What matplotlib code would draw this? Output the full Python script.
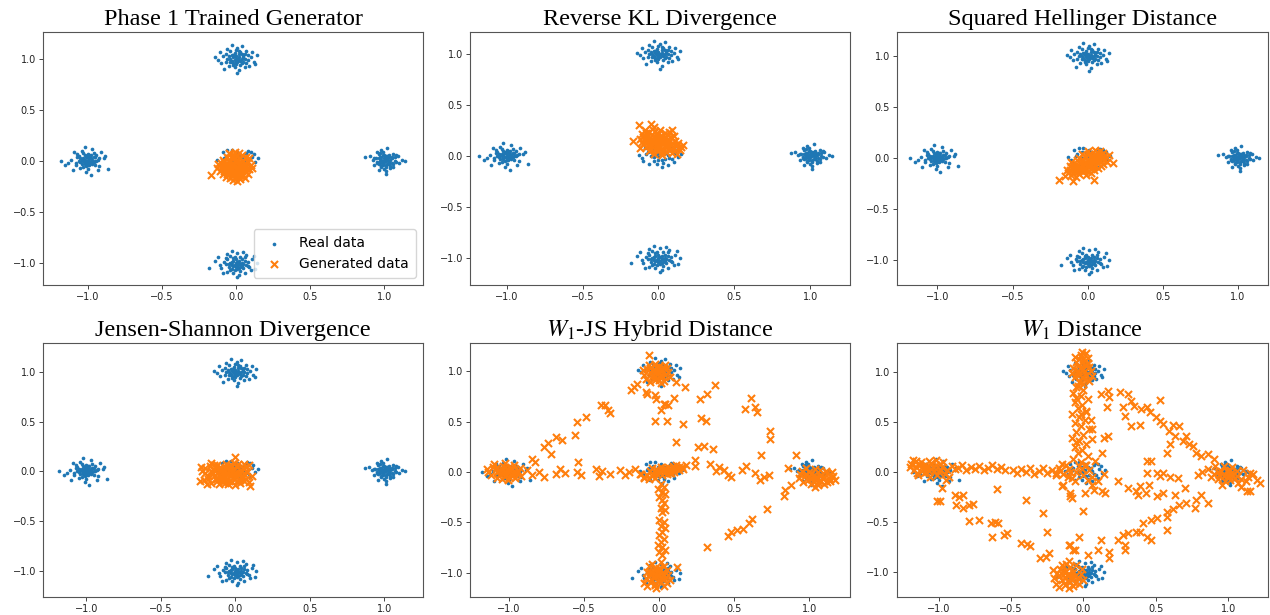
import numpy as np
import matplotlib.pyplot as plt

plt.rcParams['mathtext.fontset'] = 'stix'

titles = ['Phase 1 Trained Generator', 'Reverse KL Divergence', 'Squared Hellinger Distance',
          'Jensen-Shannon Divergence', '$W_1$-JS Hybrid Distance', '$W_1$ Distance']

# axis limits
xlims = [(-1.30, 1.26), (-1.24, 1.26), (-1.27, 1.20), (-1.29, 1.26), (-1.26, 1.27), (-1.29, 1.276)]
ylims = [(-1.22, 1.26), (-1.27, 1.22), (-1.25, 1.24), (-1.265, 1.29), (-1.24, 1.28), (-1.25, 1.29)]

# real data: five gaussian modes
real_left = [(-1.02, 0.01), (-0.97, -0.03), (-1.05, 0.02), (-0.99, 0.05), (-1.01, -0.01), (-0.94, 0.00),
             (-1.08, -0.04), (-1.00, 0.03), (-0.96, 0.07), (-1.03, -0.06), (-1.06, 0.04), (-0.98, -0.02),
             (-1.11, 0.01), (-0.92, -0.05), (-1.00, -0.08), (-1.04, 0.09), (-0.95, 0.03), (-1.02, -0.03),
             (-0.89, 0.02), (-1.13, -0.02), (-0.99, 0.00), (-1.07, 0.06), (-0.97, 0.11), (-1.01, -0.11),
             (-0.93, -0.09), (-1.09, 0.08), (-1.03, 0.02), (-0.96, -0.01), (-1.18, 0.00), (-0.86, -0.08),
             (-1.00, 0.06), (-1.05, -0.07), (-0.94, 0.05), (-1.02, 0.13), (-0.98, -0.14), (-1.15, -0.04),
             (-0.91, 0.08), (-1.04, -0.03), (-0.99, 0.02), (-1.06, 0.00), (-0.95, -0.04), (-1.01, 0.04),
             (-0.88, 0.04), (-1.10, -0.09), (-0.97, 0.01), (-1.03, 0.07), (-1.00, -0.04), (-0.93, 0.01),
             (-1.00, 0.01), (-0.98, 0.02), (-1.02, -0.02), (-1.01, 0.03), (-0.97, -0.01), (-1.03, 0.00),
             (-0.99, -0.04), (-1.04, 0.01), (-0.96, 0.03), (-1.01, -0.05), (-0.98, 0.05), (-1.05, -0.01),
             (-0.95, 0.00), (-1.00, -0.02), (-1.02, 0.05), (-1.07, 0.03), (-0.92, 0.02), (-1.08, -0.02)]
real_right = [(1.02, 0.01), (0.97, -0.02), (1.05, 0.03), (0.99, 0.00), (1.01, -0.04), (0.94, 0.02),
              (1.08, -0.01), (1.00, 0.05), (0.96, -0.03), (1.03, 0.00), (1.06, 0.06), (0.98, -0.06),
              (1.01, 0.02), (0.92, 0.01), (1.10, -0.02), (0.99, 0.08), (1.04, -0.05), (0.95, -0.01),
              (1.02, 0.04), (1.00, -0.08), (0.97, 0.03), (1.07, 0.00), (1.03, -0.03), (0.90, 0.04),
              (1.12, 0.01), (0.98, 0.10), (1.01, -0.10), (1.05, 0.02), (0.96, 0.06), (1.00, 0.00),
              (1.04, -0.07), (0.93, -0.04), (1.09, 0.04), (0.99, -0.02), (1.02, 0.12), (0.87, 0.03),
              (1.14, 0.00), (1.01, -0.13), (0.97, 0.07), (1.03, 0.05), (1.06, -0.06), (0.95, 0.08),
              (1.00, 0.02), (1.08, 0.05), (0.98, -0.05), (1.03, -0.01), (0.96, -0.09), (1.01, 0.00),
              (1.00, -0.01), (1.02, 0.02), (0.98, 0.01), (1.01, 0.04), (0.97, 0.00), (1.04, 0.01),
              (0.99, -0.04), (1.03, 0.03), (0.96, 0.02), (1.01, -0.06), (0.99, 0.05), (1.05, -0.02),
              (0.95, -0.02), (1.02, -0.03), (1.07, 0.03), (0.93, 0.02), (1.06, -0.03), (0.98, 0.03)]
real_top = [(0.02, 1.01), (-0.03, 0.98), (0.05, 1.03), (-0.01, 1.05), (0.01, 0.97), (-0.06, 1.00),
            (0.08, 0.99), (0.00, 1.02), (-0.04, 1.07), (0.03, 0.94), (0.06, 1.04), (-0.02, 0.96),
            (-0.09, 1.02), (0.10, 1.01), (0.01, 1.10), (-0.05, 0.93), (0.04, 1.00), (-0.01, 0.99),
            (0.12, 0.97), (-0.12, 0.99), (0.00, 0.95), (0.07, 1.07), (-0.07, 1.04), (0.02, 0.89),
            (-0.03, 1.13), (0.09, 0.93), (-0.10, 0.96), (0.03, 1.06), (0.14, 1.03), (-0.14, 1.01),
            (0.05, 0.97), (-0.02, 1.03), (0.01, 0.86), (0.04, 1.12), (-0.08, 0.90), (0.11, 1.06),
            (-0.04, 1.00), (0.00, 1.00), (0.06, 0.92), (-0.06, 1.09), (0.02, 1.04), (-0.01, 0.92),
            (0.08, 1.03), (-0.03, 0.97), (0.04, 0.96), (-0.11, 1.06), (0.13, 0.95), (0.00, 1.08),
            (0.01, 1.00), (-0.02, 1.01), (0.03, 0.98), (-0.01, 1.02), (0.02, 0.99), (-0.04, 0.97),
            (0.05, 1.01), (0.00, 0.97), (-0.03, 1.03), (0.04, 1.04), (-0.05, 1.02), (0.07, 0.96),
            (0.02, 1.07), (-0.07, 0.97), (0.06, 1.00), (-0.02, 0.94)]
real_bottom = [(0.01, -0.99), (-0.02, -1.03), (0.04, -0.97), (-0.05, -1.01), (0.02, -1.05), (-0.01, -0.95),
               (0.07, -1.02), (0.00, -1.00), (-0.04, -0.94), (0.03, -1.08), (0.06, -0.98), (-0.03, -1.06),
               (-0.08, -0.99), (0.09, -1.04), (0.01, -0.91), (-0.06, -1.09), (0.05, -1.01), (-0.02, -0.98),
               (0.11, -0.97), (-0.11, -1.02), (0.00, -1.04), (0.07, -0.93), (-0.07, -0.96), (0.02, -1.12),
               (-0.03, -0.89), (0.10, -1.07), (-0.10, -1.05), (0.03, -0.95), (0.14, -1.00), (-0.14, -0.98),
               (0.04, -1.03), (-0.01, -1.07), (0.01, -1.14), (0.05, -0.90), (-0.09, -1.10), (0.12, -0.94),
               (-0.04, -1.00), (0.00, -0.97), (0.06, -1.10), (-0.06, -0.92), (0.02, -1.01), (-0.02, -1.10),
               (0.08, -0.99), (-0.03, -1.02), (0.03, -1.04), (-0.12, -0.95), (0.13, -1.06), (-0.18, -1.05),
               (0.00, -1.01), (-0.01, -1.02), (0.02, -0.98), (-0.03, -0.99), (0.01, -1.03), (-0.05, -1.04),
               (0.04, -1.00), (-0.02, -0.96), (0.03, -1.01), (-0.04, -1.07), (0.05, -1.05), (-0.07, -1.01),
               (0.06, -0.95), (0.01, -1.06), (-0.06, -0.97), (0.08, -1.03)]
real_center = [(0.01, 0.02), (-0.03, -0.01), (0.04, 0.03), (-0.05, 0.00), (0.02, -0.04), (-0.01, 0.05),
               (0.07, -0.02), (0.00, 0.00), (-0.04, 0.06), (0.03, -0.07), (0.06, 0.01), (-0.03, -0.05),
               (-0.08, 0.02), (0.09, -0.03), (0.01, 0.08), (-0.06, -0.08), (0.05, 0.04), (-0.02, 0.01),
               (0.11, 0.03), (-0.11, -0.02), (0.00, -0.04), (0.07, 0.07), (-0.07, 0.04), (0.02, -0.11),
               (-0.03, 0.10), (0.10, -0.06), (-0.10, -0.05), (0.03, 0.05), (0.13, -0.01), (-0.13, 0.01),
               (0.04, -0.03), (-0.01, -0.08), (0.08, 0.09), (-0.09, 0.08), (0.12, 0.06), (-0.04, 0.00),
               (0.06, -0.09), (0.00, 0.03), (-0.06, 0.10), (0.02, 0.06), (0.15, 0.02), (0.10, 0.08)]

# generated samples, one set per panel
gen_phase1 = [(-0.17, -0.14), (-0.01, -0.05), (0.03, -0.02), (-0.05, -0.08), (0.06, -0.06), (-0.08, -0.01),
              (0.01, 0.04), (-0.03, -0.12), (0.08, -0.01), (-0.10, -0.06), (0.04, -0.10), (-0.06, 0.03),
              (0.00, -0.16), (0.09, -0.08), (-0.11, -0.10), (0.02, 0.07), (-0.04, 0.06), (0.07, 0.03),
              (-0.09, -0.13), (0.05, -0.14), (-0.02, -0.19), (0.03, -0.18), (-0.12, -0.03), (0.10, -0.04),
              (-0.07, -0.16), (0.00, 0.01), (-0.02, -0.02), (0.02, -0.08), (-0.05, -0.04), (0.05, 0.00),
              (-0.08, -0.08), (0.07, -0.11), (-0.03, 0.02), (0.01, -0.13), (-0.06, -0.11), (0.04, 0.05),
              (-0.09, 0.01), (0.08, -0.13), (-0.01, 0.08), (0.06, -0.17), (-0.04, -0.17), (0.11, -0.07),
              (-0.13, -0.07), (0.03, 0.02), (-0.07, -0.05), (0.02, -0.03), (-0.01, -0.10), (0.05, -0.07),
              (-0.10, -0.02), (0.00, -0.07), (0.09, 0.02), (-0.05, 0.07), (0.01, -0.20), (-0.03, -0.07),
              (0.06, -0.03), (-0.02, -0.04), (0.01, -0.06), (-0.04, -0.06), (0.03, -0.05), (-0.06, -0.07),
              (0.00, -0.09), (-0.03, -0.09), (0.04, -0.08), (-0.07, -0.03), (0.02, -0.01), (-0.01, -0.01),
              (-0.05, -0.01), (0.06, -0.09), (-0.08, -0.10), (0.00, -0.12), (-0.03, -0.15), (0.03, -0.14),
              (0.07, -0.05), (-0.09, -0.05), (0.01, 0.00), (-0.04, 0.00), (0.05, -0.04), (-0.06, -0.13),
              (0.02, -0.16), (-0.02, 0.05)]
gen_rkl = [(-0.17, 0.15), (-0.13, 0.30), (-0.05, 0.31), (0.09, 0.26), (0.00, 0.13), (0.04, 0.10),
           (-0.04, 0.16), (0.07, 0.14), (-0.08, 0.19), (0.02, 0.20), (-0.02, 0.07), (0.10, 0.08),
           (-0.10, 0.12), (0.05, 0.04), (-0.06, 0.24), (0.12, 0.11), (-0.12, 0.17), (0.01, 0.26),
           (-0.03, 0.02), (0.08, 0.19), (0.14, 0.06), (-0.09, 0.26), (0.03, 0.15), (-0.01, 0.18),
           (0.06, 0.07), (-0.05, 0.10), (0.11, 0.15), (-0.11, 0.22), (0.00, 0.05), (0.04, 0.23),
           (-0.07, 0.14), (0.09, 0.03), (-0.03, 0.28), (0.13, 0.13), (0.02, 0.01), (-0.04, 0.21),
           (0.06, 0.17), (-0.08, 0.09), (0.15, 0.09), (0.01, 0.10), (-0.01, 0.23), (0.08, 0.11),
           (-0.06, 0.05), (0.10, 0.20), (-0.12, 0.08), (0.03, 0.06), (-0.02, 0.13), (0.05, 0.12),
           (-0.09, 0.16), (0.07, 0.24), (0.12, 0.02), (-0.04, 0.27), (0.00, 0.17), (0.16, 0.11),
           (-0.07, 0.20), (0.01, 0.14), (-0.02, 0.15), (0.03, 0.12), (-0.04, 0.12), (0.05, 0.15),
           (-0.06, 0.17), (0.02, 0.17), (0.00, 0.10), (-0.03, 0.19), (0.06, 0.10), (-0.07, 0.11),
           (0.09, 0.13), (0.04, 0.19), (-0.05, 0.07), (0.08, 0.07), (-0.01, 0.21), (-0.10, 0.19),
           (0.11, 0.11), (0.02, 0.04), (-0.02, 0.25), (0.06, 0.21), (-0.08, 0.23), (0.13, 0.08),
           (-0.11, 0.14), (0.00, 0.08)]
gen_hellinger = [(-0.19, -0.22), (0.17, -0.05), (-0.10, -0.23), (0.04, -0.22), (-0.01, -0.05), (0.03, -0.01),
                 (-0.05, -0.09), (0.07, 0.02), (-0.09, -0.13), (0.01, 0.04), (-0.03, -0.14), (0.10, 0.05),
                 (-0.12, -0.08), (0.05, -0.07), (-0.07, -0.02), (0.08, -0.03), (-0.11, -0.17), (0.12, 0.01),
                 (-0.02, 0.02), (0.02, -0.11), (-0.06, -0.16), (0.06, 0.06), (-0.14, -0.12), (0.09, -0.08),
                 (0.00, -0.08), (-0.04, -0.04), (0.04, 0.03), (-0.08, -0.06), (0.03, -0.05), (-0.10, -0.10),
                 (0.11, -0.02), (-0.01, -0.17), (0.07, -0.10), (-0.13, -0.15), (0.00, 0.07), (-0.06, 0.00),
                 (0.05, 0.08), (-0.08, -0.19), (0.13, -0.04), (0.01, -0.02), (-0.03, -0.07), (0.06, -0.02),
                 (-0.05, -0.12), (0.09, 0.03), (-0.11, -0.04), (0.02, -0.15), (0.08, 0.07), (-0.15, -0.18),
                 (0.03, 0.00), (-0.02, -0.10), (0.04, -0.12), (-0.07, -0.08), (0.10, -0.06), (-0.04, 0.04),
                 (0.14, 0.03), (-0.02, -0.06), (0.01, -0.04), (-0.04, -0.07), (0.03, -0.03), (-0.06, -0.10),
                 (0.05, -0.01), (-0.08, -0.11), (0.07, 0.00), (-0.01, -0.12), (0.02, -0.07), (-0.05, -0.05),
                 (0.04, -0.09), (-0.09, -0.09), (0.08, 0.03), (-0.03, -0.02), (0.00, -0.01), (-0.07, -0.14),
                 (0.06, -0.05), (-0.12, -0.12), (0.10, 0.01), (-0.03, -0.11), (0.02, 0.02), (-0.10, -0.15),
                 (0.05, 0.04), (0.00, -0.13)]
gen_js = [(-0.24, -0.10), (0.10, -0.15), (0.00, 0.14), (0.09, 0.06), (-0.06, -0.03), (-0.02, 0.00),
          (-0.10, -0.06), (0.02, -0.04), (-0.14, 0.01), (0.05, 0.03), (-0.18, -0.05), (-0.04, 0.05),
          (0.07, -0.08), (-0.20, 0.03), (-0.08, -0.11), (0.03, -0.12), (-0.12, 0.06), (0.08, -0.01),
          (-0.16, -0.12), (-0.01, -0.08), (-0.21, -0.09), (0.06, 0.07), (-0.09, 0.01), (-0.05, -0.13),
          (0.01, 0.04), (-0.13, -0.08), (0.04, -0.06), (-0.17, 0.05), (-0.03, -0.05), (-0.07, 0.04),
          (0.09, -0.11), (-0.11, -0.13), (0.00, -0.02), (-0.15, -0.02), (0.06, -0.03), (-0.22, 0.00),
          (-0.06, -0.08), (0.02, 0.07), (-0.10, 0.02), (-0.19, -0.13), (0.11, -0.05), (-0.02, -0.11),
          (-0.13, 0.04), (0.04, 0.01), (-0.08, -0.04), (-0.16, 0.08), (0.07, 0.04), (-0.04, 0.01),
          (-0.12, -0.10), (0.00, -0.14), (-0.23, 0.04), (0.03, -0.09), (-0.09, -0.07), (-0.01, 0.08),
          (-0.06, 0.07), (-0.05, -0.02), (-0.08, -0.01), (-0.03, -0.03), (-0.11, -0.04), (0.00, -0.05),
          (-0.14, -0.05), (0.03, -0.02), (-0.07, -0.06), (-0.01, 0.02), (-0.10, 0.04), (-0.16, 0.00),
          (0.05, -0.06), (-0.04, -0.10), (-0.12, -0.07), (0.01, -0.10), (-0.18, -0.08), (-0.06, 0.03),
          (0.07, 0.00), (-0.09, -0.10), (-0.14, 0.06), (-0.02, 0.05), (-0.20, -0.02), (0.06, -0.10),
          (-0.07, -0.12), (-0.11, 0.00)]

hybrid_modes = [(-1.02, 0.00), (-0.98, 0.03), (-1.06, -0.02), (-1.00, -0.05), (-1.09, 0.04), (-0.95, -0.01),
                (-1.04, 0.06), (-1.12, -0.03), (-0.97, 0.07), (-1.01, -0.08), (-1.07, 0.01), (-0.93, 0.04),
                (-1.03, -0.04), (-1.10, 0.08), (-0.99, -0.03), (-1.05, 0.03), (-0.96, -0.06), (-1.14, 0.00),
                (-1.00, 0.02), (-1.08, -0.06), (-0.94, 0.01), (-1.03, 0.09), (-1.11, 0.05), (-0.97, -0.02),
                (-1.05, -0.07), (-0.92, -0.04), (-1.00, 0.05), (-1.15, 0.03),
                (-1.01, 0.01), (-1.04, -0.01), (-0.99, 0.04), (-1.06, 0.02), (-1.02, -0.03), (-0.97, 0.00),
                (-1.08, 0.00), (-1.03, 0.05),
                (-0.02, 0.98), (0.02, 1.01), (-0.05, 0.95), (0.04, 0.97), (-0.08, 1.02), (0.00, 1.05),
                (-0.03, 0.92), (0.05, 1.03), (-0.06, 0.99), (0.01, 0.94), (-0.10, 0.97), (0.03, 0.91),
                (-0.01, 1.02), (-0.07, 1.06), (0.06, 0.99), (-0.04, 1.00), (0.02, 0.96), (-0.09, 0.93),
                (0.00, 0.99), (-0.03, 1.07), (0.04, 1.06), (-0.06, 0.90), (0.01, 0.89), (-0.11, 1.01),
                (0.07, 0.95), (-0.02, 1.04), (-0.07, 1.16),
                (-0.02, 1.00), (0.01, 0.97), (-0.04, 0.97), (-0.01, 1.04), (0.03, 1.03), (-0.06, 1.03),
                (0.00, 0.92), (-0.03, 0.95),
                (0.00, 0.00), (0.04, 0.01), (-0.04, -0.02), (0.08, 0.02), (-0.08, -0.03), (0.12, 0.04),
                (0.02, -0.03), (-0.02, 0.03), (0.06, 0.05), (-0.06, 0.01), (0.10, 0.00), (0.15, 0.05),
                (-0.10, -0.05), (0.01, 0.05), (-0.03, -0.06), (0.05, -0.02), (0.09, 0.06), (-0.07, -0.07),
                (0.13, 0.02), (0.18, 0.07), (0.03, 0.03), (0.07, -0.01), (-0.05, 0.04), (0.11, 0.07),
                (-0.12, -0.02), (0.16, 0.03),
                (0.02, 0.01), (-0.02, -0.01), (0.06, 0.02), (0.10, 0.03), (-0.05, -0.04), (0.04, 0.04),
                (0.13, 0.05), (0.08, -0.01),
                (-0.02, -1.03), (0.02, -1.00), (-0.05, -1.07), (0.04, -1.05), (-0.08, -0.99), (0.00, -0.95),
                (-0.03, -1.11), (0.05, -0.97), (-0.06, -1.02), (0.01, -1.09), (-0.09, -1.05), (0.03, -1.13),
                (-0.01, -0.98), (-0.07, -0.93), (0.06, -1.02), (-0.04, -1.00), (0.02, -1.06), (-0.10, -1.10),
                (0.00, -1.02), (-0.02, -1.15), (0.05, -1.10), (-0.05, -0.91), (0.01, -0.89), (-0.08, -1.13),
                (0.07, -1.07), (-0.03, -0.96), (0.03, -0.93), (-0.06, -1.09),
                (-0.02, -1.01), (0.01, -1.04), (-0.04, -1.04), (-0.01, -1.08), (0.03, -1.02), (-0.06, -0.99),
                (0.00, -0.97), (-0.03, -1.12),
                (1.05, -0.05), (1.01, -0.02), (1.09, -0.07), (0.97, -0.04), (1.12, -0.01), (1.03, -0.10),
                (0.95, 0.01), (1.07, 0.02), (1.14, -0.09), (0.99, -0.08), (1.04, 0.03), (1.10, -0.12),
                (0.93, -0.06), (1.06, -0.13), (1.16, -0.04), (1.00, 0.00), (1.08, -0.03), (0.96, -0.10),
                (1.02, -0.06), (1.13, -0.06), (0.98, 0.04), (1.11, 0.01), (1.04, -0.15), (1.17, -0.08),
                (1.01, -0.12), (0.94, -0.02), (1.07, -0.09), (1.15, 0.00),
                (1.04, -0.06), (1.07, -0.04), (1.01, -0.07), (1.10, -0.05), (0.98, -0.02), (1.06, -0.10),
                (1.03, -0.03), (1.12, -0.10)]
hybrid_paths = [(0.01, -0.12), (0.03, -0.15), (-0.01, -0.17), (0.02, -0.20), (0.04, -0.22), (0.00, -0.25),
                (0.02, -0.28), (0.03, -0.31), (0.01, -0.36), (0.04, -0.38), (0.02, -0.40), (0.00, -0.48),
                (0.03, -0.50), (0.01, -0.53), (0.04, -0.55), (0.02, -0.59), (0.00, -0.62), (0.03, -0.66),
                (0.01, -0.69), (-0.01, -0.72), (0.02, -0.74), (0.04, -0.77), (0.00, -0.79), (0.02, -0.82),
                (-0.88, 0.02), (-0.85, -0.03), (-0.80, 0.00), (-0.77, -0.05), (-0.69, -0.02), (-0.66, 0.03),
                (-0.63, -0.01), (-0.55, 0.00), (-0.52, -0.03), (-0.42, 0.03), (-0.40, -0.04), (-0.38, 0.01),
                (-0.33, -0.02), (-0.26, 0.02), (-0.23, -0.03), (-0.20, 0.00), (-0.16, 0.03), (-0.13, -0.02),
                (-0.17, 0.85), (-0.15, 0.88), (-0.19, 0.82), (-0.08, 0.78), (-0.03, 0.77), (-0.02, 0.73),
                (0.04, 0.68), (0.01, 0.62), (-0.03, 0.51), (0.05, 0.51), (-0.39, 0.67), (-0.36, 0.67),
                (-0.34, 0.62), (-0.33, 0.59), (-0.49, 0.55), (-0.55, 0.50), (-0.56, 0.37), (-0.69, 0.35),
                (-0.65, 0.32), (-0.74, 0.29), (-0.77, 0.25), (-0.72, 0.18), (-0.85, 0.13), (-0.83, 0.10),
                (-0.54, 0.10), (0.11, 0.90), (0.17, 0.85), (0.37, 0.87), (0.32, 0.78), (0.27, 0.73),
                (-0.09, 0.80), (0.03, 0.68), (0.06, 0.67), (0.10, 0.74), (0.16, 0.48), (0.28, 0.54),
                (0.31, 0.51), (0.61, 0.74), (0.57, 0.63), (0.64, 0.65), (0.65, 0.60), (0.74, 0.41),
                (0.74, 0.33), (0.11, 0.30), (0.26, 0.25), (0.30, 0.26), (0.36, 0.23), (0.24, 0.12),
                (0.24, 0.06), (0.34, 0.08), (0.40, 0.05), (0.43, 0.02), (0.46, -0.03), (0.55, 0.02),
                (0.58, 0.06), (0.64, -0.01), (0.70, -0.05), (0.73, -0.03), (0.68, 0.17), (0.91, 0.17),
                (0.86, 0.04), (0.38, 0.01), (0.48, -0.05), (0.67, -0.08), (0.12, -0.94), (0.32, -0.74),
                (0.46, -0.63), (0.48, -0.59), (0.52, -0.57), (0.56, -0.56), (0.60, -0.51), (0.62, -0.47),
                (0.72, -0.37), (0.83, -0.24), (0.84, -0.18), (0.88, -0.13), (-0.10, -0.06)]

w1_modes = [(-1.08, 0.04), (-1.13, 0.07), (-1.03, 0.01), (-1.17, 0.02), (-0.98, 0.05), (-1.10, -0.01),
            (-1.05, 0.09), (-1.19, 0.08), (-0.94, 0.02), (-1.14, -0.03), (-1.01, -0.03), (-1.07, 0.11),
            (-0.91, 0.06), (-1.16, 0.11), (-1.04, 0.05), (-0.96, -0.02), (-1.11, 0.03), (-1.20, 0.05),
            (-0.99, 0.08), (-1.06, -0.05), (-0.89, 0.03), (-1.12, 0.10), (-1.02, 0.12), (-1.15, -0.01),
            (-0.93, -0.05), (-1.09, 0.00), (-0.97, 0.10), (-1.18, 0.12), (-1.00, 0.00), (-0.95, -0.08),
            (-1.08, 0.06), (-1.05, 0.03), (-1.11, 0.06), (-1.02, 0.07), (-1.14, 0.08), (-1.07, 0.01),
            (-0.99, 0.02), (-1.16, 0.05),
            (-0.01, 1.02), (0.02, 0.97), (-0.04, 1.06), (0.03, 1.09), (-0.06, 0.95), (0.00, 1.13),
            (-0.03, 0.90), (0.05, 1.01), (-0.07, 1.04), (0.01, 0.93), (-0.02, 1.17), (0.04, 1.05),
            (-0.05, 1.10), (0.02, 1.19), (-0.08, 0.99), (0.00, 0.88), (0.06, 0.96), (-0.03, 0.98),
            (0.01, 1.07), (-0.06, 1.15), (0.04, 0.91), (-0.01, 1.20), (0.03, 1.14), (-0.04, 0.86),
            (-0.02, 1.05), (0.01, 1.01), (-0.04, 1.01), (0.00, 1.10), (-0.03, 1.13), (0.02, 1.06),
            (-0.01, 0.95), (-0.05, 0.98),
            (-0.05, 0.00), (-0.10, 0.03), (0.00, -0.03), (-0.14, -0.02), (0.04, 0.02), (-0.08, -0.06),
            (-0.03, 0.06), (-0.17, 0.04), (0.06, -0.05), (-0.12, 0.07), (-0.01, 0.03), (-0.06, -0.09),
            (0.02, 0.07), (-0.19, -0.01), (-0.09, 0.00), (0.03, -0.08), (-0.15, 0.08), (-0.11, -0.05),
            (-0.11, -1.04), (-0.07, -1.00), (-0.15, -1.08), (-0.04, -1.06), (-0.18, -1.01), (-0.09, -0.95),
            (-0.13, -1.13), (-0.02, -1.02), (-0.20, -1.06), (-0.06, -1.11), (-0.16, -0.97), (-0.10, -1.16),
            (-0.01, -0.97), (-0.12, -0.92), (-0.19, -1.12), (-0.05, -0.93), (-0.14, -1.03), (-0.08, -1.07),
            (-0.21, -0.98), (-0.03, -1.12), (-0.12, -0.99), (-0.17, -1.15), (-0.07, -1.14), (-0.10, -0.89),
            (0.00, -1.08), (-0.15, -0.93),
            (-0.11, -1.02), (-0.08, -1.04), (-0.13, -1.06), (-0.09, -1.10), (-0.14, -0.99), (-0.06, -1.04),
            (-0.17, -1.04), (-0.11, -1.08),
            (1.00, -0.03), (0.95, 0.01), (1.05, -0.06), (0.90, -0.02), (1.10, 0.02), (0.98, -0.09),
            (1.03, 0.05), (0.86, 0.03), (1.14, -0.05), (0.93, -0.07), (1.07, -0.11), (0.97, 0.06),
            (1.12, -0.09), (0.82, 0.00), (1.01, 0.02), (0.88, -0.05), (1.17, -0.02), (0.96, -0.13),
            (1.06, 0.01), (0.91, 0.06), (1.09, -0.15), (1.02, -0.01), (0.79, -0.03), (1.20, -0.08),
            (0.94, -0.03), (1.15, -0.19), (1.22, -0.11), (1.15, -0.01), (1.13, -0.19),
            (1.00, -0.05), (1.03, -0.03), (0.97, -0.04), (1.06, -0.04), (0.93, 0.00), (1.09, -0.07),
            (1.01, -0.08), (0.99, 0.01)]
w1_paths = [(-0.05, 0.85), (0.00, 0.82), (-0.07, 0.79), (-0.02, 0.76), (0.03, 0.73), (-0.06, 0.70),
            (-0.01, 0.67), (-0.04, 0.64), (0.02, 0.61), (-0.08, 0.58), (-0.03, 0.55), (0.01, 0.52),
            (-0.06, 0.49), (-0.02, 0.46), (0.04, 0.43), (-0.05, 0.40), (0.00, 0.37), (-0.08, 0.34),
            (-0.03, 0.31), (0.02, 0.28), (-0.06, 0.25), (-0.01, 0.22), (-0.04, 0.19), (0.03, 0.16),
            (-0.07, 0.13), (-0.02, 0.10), (0.01, 0.07), (-0.05, 0.74), (-0.02, 0.58), (-0.05, 0.30),
            (0.05, 0.52),
            (-0.87, 0.04), (-0.84, 0.07), (-0.81, 0.02), (-0.78, 0.05), (-0.75, 0.03), (-0.72, 0.06),
            (-0.69, 0.02), (-0.66, 0.04), (-0.63, 0.07), (-0.60, 0.03), (-0.57, 0.05), (-0.54, 0.02),
            (-0.49, 0.02), (-0.46, -0.01), (-0.43, 0.03), (-0.40, 0.00), (-0.37, 0.04), (-0.34, -0.02),
            (-0.31, 0.01), (-0.28, 0.04), (-0.25, -0.01), (-0.22, 0.02), (-0.19, -0.03), (-0.16, 0.01),
            (0.12, 0.78), (0.17, 0.81), (0.18, 0.75), (0.16, 0.65), (0.25, 0.80), (0.27, 0.65),
            (0.29, 0.56), (0.31, 0.78), (0.33, 0.71), (0.35, 0.66), (0.40, 0.63), (0.44, 0.65),
            (0.46, 0.60), (0.50, 0.55), (0.53, 0.72), (0.53, 0.51), (0.55, 0.48), (0.59, 0.41),
            (0.62, 0.47), (0.66, 0.46), (0.63, 0.36), (0.71, 0.36), (0.69, 0.31), (0.73, 0.28),
            (0.76, 0.26), (0.78, 0.19), (0.81, 0.16), (0.86, 0.18), (0.90, 0.13), (0.60, 0.28),
            (0.58, 0.19), (0.44, 0.11), (0.47, 0.11), (0.14, 0.34), (0.17, 0.36), (0.33, 0.46),
            (0.39, 0.47), (0.13, 0.19), (0.06, 0.33), (0.02, 0.60), (0.06, 0.43), (0.08, 0.11),
            (0.14, -0.02), (0.44, -0.01), (0.51, -0.01), (0.55, -0.01),
            (-0.98, -0.16), (-0.99, -0.29), (-1.01, -0.29), (-0.89, -0.23), (-0.83, -0.23), (-0.86, -0.25),
            (-0.88, -0.33), (-0.83, -0.36), (-0.79, -0.33), (-0.76, -0.32), (-0.79, -0.49), (-0.72, -0.48),
            (-0.64, -0.51), (-0.61, -0.50), (-0.59, -0.51), (-0.60, -0.17), (-0.63, -0.65), (-0.55, -0.63),
            (-0.53, -0.61), (-0.40, -0.28), (-0.43, -0.71), (-0.39, -0.72), (-0.37, -0.74), (-0.28, -0.41),
            (-0.25, -0.60), (-0.30, -0.86), (-0.26, -0.85), (-0.24, -0.81), (-0.15, -0.14), (-0.09, -0.21),
            (-0.08, -0.26), (-0.10, -0.73), (-0.07, -0.78), (-0.03, -0.65),
            (-0.14, -0.13), (-0.09, -0.24), (0.01, -0.21), (0.06, -0.13), (0.07, -0.18), (0.10, -0.09),
            (0.13, -0.19), (0.15, -0.21), (0.00, -0.39), (0.24, -0.09), (0.31, -0.16), (0.36, -0.19),
            (0.38, -0.23), (0.39, -0.14), (0.43, -0.21), (0.45, -0.13), (0.51, -0.24), (0.55, -0.21),
            (0.53, -0.04), (0.60, -0.05), (0.65, -0.06), (0.63, -0.23), (0.66, -0.33), (0.62, -0.37),
            (0.58, -0.40), (0.58, -0.45), (0.70, -0.16), (0.71, -0.31), (0.77, -0.36), (0.78, -0.28),
            (0.81, -0.23), (0.86, -0.31), (0.51, -0.46), (0.47, -0.48), (0.41, -0.51), (0.58, -0.58),
            (0.47, -0.68), (0.44, -0.65), (0.39, -0.60), (0.36, -0.60), (0.31, -0.61), (0.27, -0.63),
            (0.24, -0.68), (0.29, -0.73), (0.29, -0.78), (0.12, -0.68), (-0.09, -0.73), (-0.06, -0.78),
            (0.10, -0.78), (0.18, -0.80), (0.18, -0.86), (0.03, -0.83)]

real = np.array(real_left + real_right + real_top + real_bottom + real_center)
generated = [gen_phase1, gen_rkl, gen_hellinger, gen_js,
             hybrid_modes + hybrid_paths, w1_modes + w1_paths]

fig = plt.figure(figsize=(12.7, 6.15), dpi=100)

# axes boxes in figure fractions (left, bottom, width, height)
boxes = [(0.0339, 0.5366, 0.2992, 0.4114), (0.3701, 0.5366, 0.2992, 0.4114), (0.7061, 0.5366, 0.2924, 0.4114),
         (0.0339, 0.0293, 0.2992, 0.4125), (0.3701, 0.0293, 0.2992, 0.4125), (0.7061, 0.0293, 0.2924, 0.4125)]

for i in range(6):
    ax = fig.add_axes(boxes[i])
    g = np.array(generated[i])
    ax.scatter(real[:, 0], real[:, 1], s=7, c='#1f77b4', marker='o', linewidths=0, label='Real data')
    ax.scatter(g[:, 0], g[:, 1], s=26, c='#ff7f0e', marker='x', linewidths=1.5, label='Generated data')
    ax.set_xlim(xlims[i])
    ax.set_ylim(ylims[i])
    ax.set_xticks([-1.0, -0.5, 0.0, 0.5, 1.0])
    ax.set_yticks([-1.0, -0.5, 0.0, 0.5, 1.0])
    ax.tick_params(labelsize=7, length=3, width=0.7, color='#444444', labelcolor='#222222', pad=2)
    for sp in ax.spines.values():
        sp.set_color('#555555')
        sp.set_linewidth(0.8)
    ax.set_title(titles[i], fontsize=17.5, family='Liberation Serif', pad=5)
    if i == 0:
        ax.legend(loc='lower right', fontsize=10, markerscale=1.0, handletextpad=0.8, borderpad=0.5)

fig.savefig('out.png', dpi=100)
